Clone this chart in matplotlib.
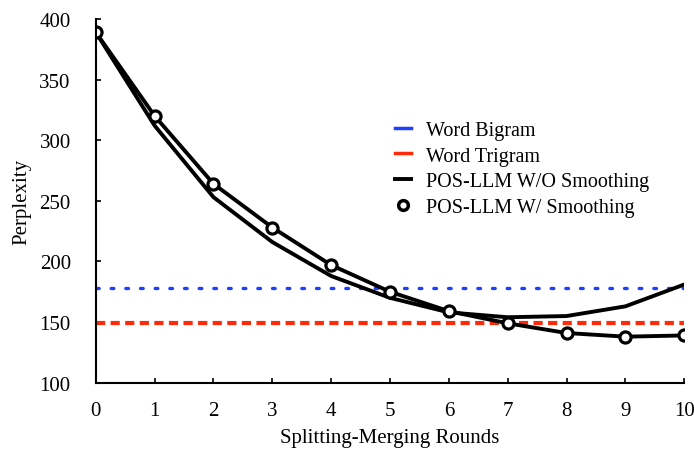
import numpy as np
import matplotlib.pyplot as plt
from matplotlib.lines import Line2D

plt.rcParams['font.family'] = ['Liberation Serif', 'DejaVu Serif']

rounds = list(range(11))
wo_smooth = [389, 312, 253, 216, 188, 170, 158, 154, 155, 163, 181]
w_smooth = [389, 320, 264, 228, 197, 175, 159, 149, 141, 138, 139]
bigram = 178
trigram = 149.5

fig = plt.figure(figsize=(6.94, 4.52), dpi=100)
ax = fig.add_axes([0.138, 0.151, 0.848, 0.805])

ax.plot([0, 10], [bigram, bigram], color='#1f3fff', ls=(0, (0.8, 3.6)), lw=2.4,
        dash_capstyle='round', label='Word Bigram')
ax.plot([0, 10], [trigram, trigram], color='#ff2a0a', ls=(0, (2.2, 1.3)), lw=3, label='Word Trigram')
ax.plot(rounds, wo_smooth, 'k-', lw=2.8, label='POS-LLM W/O Smoothing')
ax.plot(rounds, w_smooth, 'k-', lw=2.8, marker='o', ms=8, mfc='white', mec='k', mew=2.3,
        label='POS-LLM W/ Smoothing')

ax.set_xlim(0, 10)
ax.set_ylim(100, 400)
ax.set_xticks(rounds)
ax.set_yticks([100, 150, 200, 250, 300, 350, 400])
ax.spines['top'].set_visible(False)
ax.spines['right'].set_visible(False)
ax.spines['left'].set_linewidth(1.5)
ax.spines['bottom'].set_linewidth(1.5)
ax.tick_params(direction='in', length=3.5, width=1.2, labelsize=15)
ax.tick_params(axis='y', pad=18)
ax.tick_params(axis='x', pad=13)
ax.set_xlabel('Splitting-Merging Rounds', fontsize=15, labelpad=6)
ax.set_ylabel('Perplexity', fontsize=15, labelpad=6)

handles = [Line2D([], [], color='#1f3fff', lw=2.5),
           Line2D([], [], color='#ff2a0a', lw=2.5),
           Line2D([], [], color='k', lw=2.8),
           Line2D([], [], color='k', lw=0, marker='o', ms=7, mfc='white', mec='k', mew=2.5)]
labels = ['Word Bigram', 'Word Trigram', 'POS-LLM W/O Smoothing', 'POS-LLM W/ Smoothing']
ax.legend(handles, labels, loc='upper left', bbox_to_anchor=(0.478, 0.77), frameon=False,
          fontsize=14.5, handlelength=0.8, handletextpad=0.75, labelspacing=0.33)

fig.savefig('out.png', dpi=100)
